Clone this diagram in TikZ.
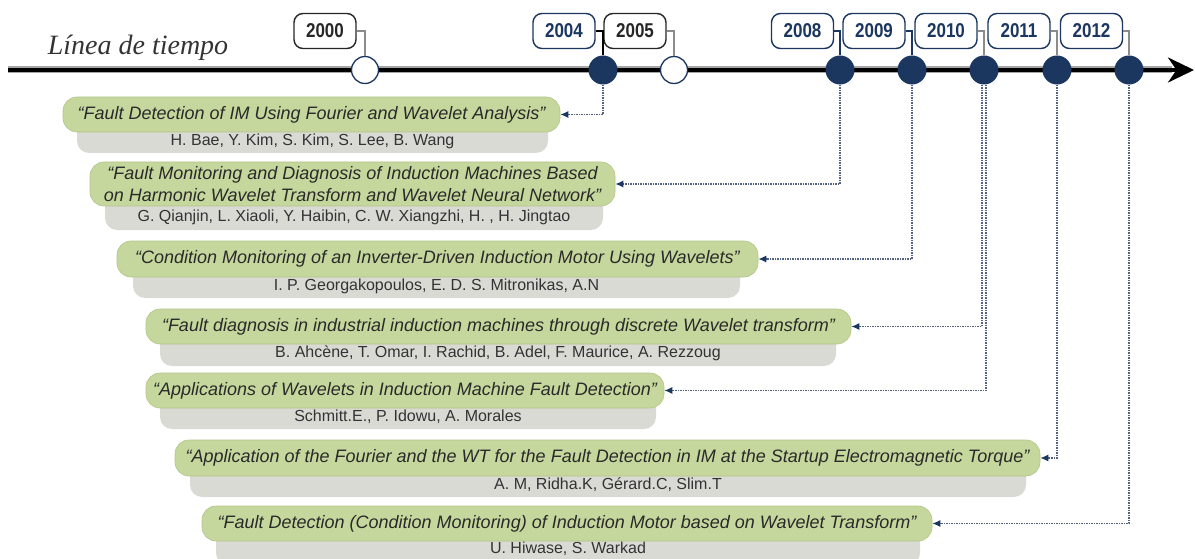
\documentclass[tikz,border=0pt]{standalone}
\usepackage{fontspec}
\setmainfont{Liberation Sans}
\newfontfamily\yearfont[FakeStretch=0.85]{Liberation Sans}
\newfontfamily\headfont{Liberation Serif}
\usetikzlibrary{arrows.meta}
\definecolor{navy}{HTML}{1B365F}
\definecolor{paperg}{HTML}{C5D79C}
\definecolor{papergedge}{HTML}{B3C589}
\definecolor{papergray}{HTML}{DADAD5}
\definecolor{dotblue}{HTML}{52627F}
\definecolor{txt}{HTML}{2A2A2A}
\tikzset{
  yearbox/.style={draw=navy, line width=1.4pt, rounded corners=9pt, fill=white,
    minimum width=62pt, minimum height=35pt, inner sep=0pt,
    font=\yearfont\bfseries\fontsize{20}{20}\selectfont, text=navy},
  yearblack/.style={yearbox, draw=black!85, text=black!85},
  opendot/.style={circle, draw=navy, line width=1.3pt, fill=white, minimum size=27pt, inner sep=0pt},
  fulldot/.style={circle, fill=navy, minimum size=29pt, inner sep=0pt},
  titlebox/.style={fill=paperg, draw=papergedge, line width=0.6pt, rounded corners=14pt,
    inner sep=0pt, align=center, text=txt, font=\itshape\fontsize{18}{22}\selectfont},
  authbox/.style={fill=papergray, rounded corners=12pt, inner sep=0pt},
  authtext/.style={inner sep=0pt, text=black!80, font=\fontsize{16}{18}\selectfont},
  ylinkgray/.style={draw=black!45, line width=1.6pt},
  ylinkdark/.style={draw=navy, line width=1.6pt},
  ylinkblack/.style={draw=black, line width=1.6pt},
  link/.style={draw=dotblue, line width=1.3pt, dash pattern=on 1.4pt off 1.1pt,
    -{Latex[length=8pt,width=7pt,color=navy]}}
}
\begin{document}
\begin{tikzpicture}[x=1pt,y=-1pt]
\useasboundingbox (0,0) rectangle (1195,559);

% title
\node[anchor=base, inner sep=0pt, text=black!80, font=\headfont\itshape\fontsize{28}{28}\selectfont] (head) at (138,55) {Línea de tiempo};

% timeline
\coordinate (tl0) at (8,70);
\coordinate (tl1) at (1194,70);
\coordinate (tlg) at (1172,70);
\draw[black!35, line width=7pt] (tl0) -- (tlg);
\draw[black, line width=3.6pt, -{Stealth[length=26pt,width=25pt]}] (tl0) -- (tl1);

% dots
\node[opendot] (d2000) at (365,70) {};
\node[fulldot] (d2004) at (603,70) {};
\node[opendot] (d2005) at (674,70) {};
\node[fulldot] (d2008) at (840,70) {};
\node[fulldot] (d2009) at (912,70) {};
\node[fulldot] (d2010) at (984,70) {};
\node[fulldot] (d2011) at (1057,70) {};
\node[fulldot] (d2012) at (1129,70) {};

% year boxes
\node[yearblack] (y2000) at (325,31) {2000};
\node[yearbox]   (y2004) at (564,31) {2004};
\node[yearblack] (y2005) at (635,31) {2005};
\node[yearbox]   (y2008) at (802.5,31) {2008};
\node[yearbox]   (y2009) at (874,31) {2009};
\node[yearbox]   (y2010) at (946,31) {2010};
\node[yearbox]   (y2011) at (1019,31) {2011};
\node[yearbox]   (y2012) at (1091.5,31) {2012};

\draw[ylinkgray]  (y2000.east) -| (d2000.north);
\draw[ylinkblack] (y2004.east) -| (d2004.north);
\draw[ylinkgray]  (y2005.east) -| (d2005.north);
\draw[ylinkdark]  (y2008.east) -| (d2008.north);
\draw[ylinkdark]  (y2009.east) -| (d2009.north);
\draw[ylinkgray]  (y2010.east) -| (d2010.north);
\draw[ylinkgray]  (y2011.east) -| (d2011.north);
\draw[ylinkgray]  (y2012.east) -| (d2012.north);

% papers: gray author boxes first
\node[authbox, minimum width=471pt, minimum height=35pt] (g1) at (312.5,135.5) {};
\node[authbox, minimum width=498pt, minimum height=40pt] (g2) at (354,210) {};
\node[authbox, minimum width=607pt, minimum height=38pt] (g3) at (436.5,279) {};
\node[authbox, minimum width=676pt, minimum height=38pt] (g4) at (498,347) {};
\node[authbox, minimum width=496pt, minimum height=37pt] (g5) at (408,410.5) {};
\node[authbox, minimum width=836pt, minimum height=37pt] (g6) at (608,478.5) {};
\node[authbox, minimum width=704pt, minimum height=40pt] (g7) at (568,545) {};

\node[authtext] (a1) at (312.5,141) {H. Bae, Y. Kim, S. Kim, S. Lee, B. Wang};
\node[authtext] (a2) at (354,217) {G. Qianjin, L. Xiaoli, Y. Haibin, C. W. Xiangzhi, H. , H. Jingtao};
\node[authtext] (a3) at (436.5,286) {I. P. Georgakopoulos, E. D. S. Mitronikas, A.N};
\node[authtext] (a4) at (498,353) {B. Ahcène, T. Omar, I. Rachid, B. Adel, F. Maurice, A. Rezzoug};
\node[authtext] (a5) at (408,417) {Schmitt.E., P. Idowu, A. Morales};
\node[authtext] (a6) at (608,485) {A. M, Ridha.K, Gérard.C, Slim.T};
\node[authtext] (a7) at (568,549) {U. Hiwase, S. Warkad};

% green title boxes
\node[titlebox, minimum width=497pt, minimum height=35pt] (t1) at (311.5,114.5) {“Fault Detection of IM Using Fourier and Wavelet Analysis”};
\node[titlebox, minimum width=525pt, minimum height=44pt] (t2) at (352.5,184) {“Fault Monitoring and Diagnosis of Induction Machines Based\\on Harmonic Wavelet Transform and Wavelet Neural Network”};
\node[titlebox, minimum width=641pt, minimum height=36pt] (t3) at (437.5,259) {“Condition Monitoring of an Inverter-Driven Induction Motor Using Wavelets”};
\node[titlebox, minimum width=705pt, minimum height=35pt] (t4) at (498.5,326.5) {“Fault diagnosis in industrial induction machines through discrete Wavelet transform”};
\node[titlebox, minimum width=518pt, minimum height=35pt] (t5) at (405,390.5) {“Applications of Wavelets in Induction Machine Fault Detection”};
\node[titlebox, minimum width=865pt, minimum height=36pt] (t6) at (607.5,458) {“Application of the Fourier and the WT for the Fault Detection in IM at the Startup Electromagnetic Torque”};
\node[titlebox, minimum width=730pt, minimum height=35pt] (t7) at (567,523.5) {“Fault Detection (Condition Monitoring) of Induction Motor based on Wavelet Transform”};

% links
\draw[link] (d2004) |- (t1);
\draw[link] (d2008) |- (t2);
\draw[link] (d2009) |- (t3);
\draw[link] ([xshift=-2pt]d2010.south) |- (t4);
\draw[link] ([xshift=2pt]d2010.south) |- (t5);
\draw[link] (d2011) |- (t6);
\draw[link] (d2012) |- (t7);
\end{tikzpicture}
\end{document}
